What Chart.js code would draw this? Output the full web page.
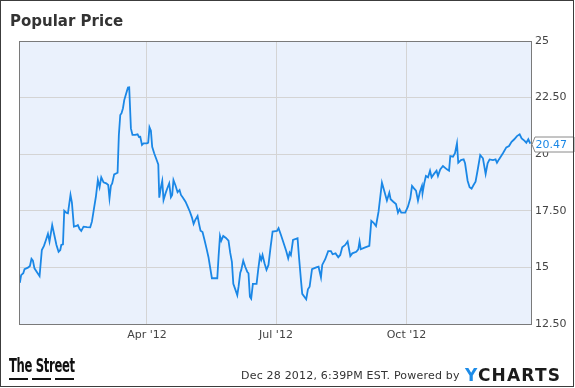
<!DOCTYPE html>
<html>
<head>
<meta charset="utf-8">
<script src="https://cdn.jsdelivr.net/npm/chart.js@4/dist/chart.umd.min.js"></script>
<style>
  html, body { margin: 0; padding: 0; background: #fff; }
  #wrap { position: relative; width: 575px; height: 388px; overflow: hidden; font-family: "DejaVu Sans", sans-serif; }
  #c { position: absolute; left: 0; top: 0; }
  #frame { position: absolute; left: 0; top: 0; width: 574px; height: 387px; box-sizing: border-box; border: 1px solid #3c3c3c; pointer-events: none; }
  #title { position: absolute; left: 10px; top: 12px; font: bold 15px "DejaVu Sans", sans-serif; color: #333; line-height: 18px; white-space: nowrap; }
  #stamp { position: absolute; left: 241px; top: 369px; font: 11px "DejaVu Sans", sans-serif; color: #333; line-height: 14px; white-space: nowrap; letter-spacing: 0.2px; }
  #ych { position: absolute; left: 465px; top: 365px; font: bold 17px "DejaVu Sans", sans-serif; color: #1b1b1b; line-height: 20px; letter-spacing: 1.2px; white-space: nowrap; }
  #ych .y { color: #1d8ce8; }
  #street { position: absolute; left: 9px; top: 355px; font: bold 19px "DejaVu Sans Condensed", "DejaVu Sans", sans-serif; color: #111; line-height: 20px; white-space: nowrap; letter-spacing: -0.5px; transform: scaleX(0.68); transform-origin: 0 0; }
  .dash { position: absolute; top: 378px; width: 19px; height: 2px; background: #111; }
</style>
</head>
<body>
<div id="wrap">
  <canvas id="c" width="575" height="388"></canvas>
  <div id="title">Popular Price</div>
  <div id="street">The Street</div>
  <div class="dash" style="left:9px"></div>
  <div class="dash" style="left:32px"></div>
  <div class="dash" style="left:55px"></div>
  <div id="stamp">Dec 28 2012, 6:39PM EST. Powered by</div>
  <div id="ych"><span class="y">Y</span>CHARTS</div>
  <div id="frame"></div>
</div>
<script>
// Day of year 2012 (Jan 1 = 0) for each sampled close
const dayOfYear = [1.4,2.3,3.8,4.7,7.1,8.5,9.6,10.6,11.7,13.6,
15.3,16.9,18.4,19.8,21.2,22.3,24.2,25.8,27.2,28.7,
29.9,30.6,31.8,32.7,34.1,35.3,37.1,38.1,39.5,41.3,
42.3,43.5,44.7,46.3,48.7,51.0,52.2,53.6,55.0,56.4,
57.6,58.8,60.4,62.3,63.7,64.6,65.6,66.5,67.9,70.3,
71.2,72.2,73.1,74.1,75.0,75.9,77.6,78.5,79.7,80.8,
82.7,84.4,85.4,86.3,87.5,88.6,91.0,91.9,92.8,93.8,
94.7,96.1,97.6,99.0,99.7,100.9,101.8,102.7,104.1,105.5,
106.7,107.9,108.8,109.7,111.2,112.6,114.0,115.0,116.4,118.2,
119.6,121.3,122.7,123.9,125.0,126.7,127.9,128.8,130.2,131.6,
133.0,134.4,136.8,140.6,141.5,142.5,143.4,144.8,146.7,148.5,
149.7,150.9,151.9,153.3,154.7,155.6,156.8,157.5,158.9,160.3,
161.7,162.6,163.6,164.5,165.7,168.3,169.5,170.7,171.6,172.5,
173.9,175.3,176.7,178.2,179.6,182.7,183.8,185.5,187.3,189.2,
190.6,191.6,192.5,194.0,197.2,198.2,199.6,200.5,203.3,204.5,
205.7,207.4,210.4,212.0,213.7,214.6,216.7,218.8,220.7,221.9,
224.0,225.9,227.3,228.7,230.8,232.5,234.4,235.8,238.6,240.0,
240.9,241.8,244.0,247.8,249.2,250.8,252.5,254.3,256.7,258.5,
260.2,261.9,262.8,264.7,266.6,268.0,269.1,270.3,273.1,275.0,
276.7,277.9,279.3,280.7,282.1,283.5,284.9,285.3,286.5,287.7,
289.2,290.6,291.7,293.4,295.2,296.2,297.8,299.7,302.5,304.0,
304.9,306.8,308.2,309.6,310.5,312.4,314.3,315.3,317.1,318.5,
319.9,321.3,322.7,324.1,326.0,327.9,329.8,331.2,332.6,335.0,
336.8,337.8,339.2,342.0,344.4,346.3,348.1,350.0,351.9,353.8,
355.2,357.1,358.5,359.9,361.3];

const price = [14.32,14.66,14.74,14.92,14.99,15.06,15.38,15.30,14.96,14.78,
14.62,15.77,15.95,16.21,16.48,16.14,16.87,16.40,15.99,15.69,
15.77,15.99,16.02,17.50,17.42,17.39,18.20,17.86,16.80,16.83,
16.87,16.70,16.61,16.80,16.78,16.77,17.02,17.57,18.12,18.86,
18.54,18.98,18.76,18.71,18.64,18.05,18.61,18.71,19.11,19.18,
20.85,21.73,21.81,22.03,22.39,22.58,22.94,22.95,21.14,20.85,
20.85,20.88,20.76,20.77,20.41,20.48,20.48,20.51,21.19,21.04,
20.33,20.04,19.79,19.55,18.08,18.56,18.82,17.98,18.27,18.52,
18.71,18.10,18.20,18.86,18.61,18.32,18.42,18.20,18.08,17.90,
17.71,17.46,17.21,16.92,17.09,17.27,16.87,16.62,16.56,16.21,
15.84,15.45,14.52,14.52,15.47,16.39,16.18,16.39,16.30,16.18,
15.65,15.25,14.27,14.03,13.77,14.15,14.77,14.89,15.30,15.03,
14.81,14.74,13.71,13.62,14.27,14.27,14.92,15.50,15.33,15.55,
15.18,14.89,15.11,15.91,16.58,16.61,16.73,16.43,16.09,15.72,
15.40,15.65,15.55,16.21,16.29,15.47,14.44,13.83,13.59,14.03,
14.15,14.92,15.00,15.03,14.56,15.11,15.36,15.72,15.72,15.58,
15.62,15.45,15.55,15.89,15.99,16.14,15.50,15.62,15.69,15.80,
16.14,15.80,15.86,15.95,17.06,16.97,16.83,17.46,18.74,18.34,
17.95,18.30,18.01,17.90,17.80,17.42,17.57,17.42,17.42,17.68,
18.05,18.60,18.49,18.39,17.95,18.34,18.60,18.27,18.71,19.04,
18.98,19.27,18.98,19.13,19.27,19.04,19.33,19.48,19.33,19.27,
19.92,19.89,20.04,20.48,19.62,19.74,19.77,19.60,18.83,18.54,
18.48,18.64,18.79,19.27,19.96,19.82,19.13,19.60,19.77,19.74,
19.77,19.62,19.77,20.04,20.30,20.36,20.55,20.66,20.80,20.88,
20.70,20.60,20.51,20.66,20.47];

const xTickDays = [91, 182, 274];
const xTickLabels = ["Apr '12", "Jul '12", "Oct '12"];
const yTickValues = [12.5, 15, 17.5, 20, 22.5, 25];
const yTickLabels = ["12.50", "15", "17.50", "20", "22.50", "25"];

const LINE = '#1a87e6';
const GRID = '#d4d4d4';
const TICKC = '#444';

const framePlugin = {
  id: 'framePlugin',
  beforeDraw(chart) {
    const a = chart.chartArea, ctx = chart.ctx;
    ctx.save();
    ctx.fillStyle = '#eaf1fc';
    ctx.fillRect(a.left, a.top, a.right - a.left, a.bottom - a.top);
    ctx.restore();
  },
  beforeDatasetsDraw(chart) {
    const a = chart.chartArea, ctx = chart.ctx;
    ctx.save();
    ctx.strokeStyle = '#7a7a7a';
    ctx.lineWidth = 1;
    ctx.strokeRect(Math.round(a.left) - 0.5, Math.round(a.top) + 0.5,
                   Math.round(a.right) - Math.round(a.left), Math.round(a.bottom) - Math.round(a.top));
    ctx.restore();
  },
  afterDraw(chart) {
    const ctx = chart.ctx, ys = chart.scales.y, a = chart.chartArea;
    const last = price[price.length - 1];
    const py = Math.round(ys.getPixelForValue(last)) + 0.5;
    const x0 = Math.round(a.right) + 0.5;
    ctx.save();
    ctx.beginPath();
    ctx.moveTo(x0 - 0.5, py);
    ctx.lineTo(x0 + 2.5, py - 7.5);
    ctx.lineTo(574, py - 7.5);
    ctx.lineTo(574, py + 7.5);
    ctx.lineTo(x0 + 2.5, py + 7.5);
    ctx.closePath();
    ctx.fillStyle = '#fff';
    ctx.fill();
    ctx.strokeStyle = '#8a8a8a';
    ctx.lineWidth = 1;
    ctx.stroke();
    ctx.fillStyle = LINE;
    ctx.font = '11px "DejaVu Sans", sans-serif';
    ctx.textBaseline = 'middle';
    ctx.textAlign = 'left';
    ctx.fillText(last.toFixed(2), x0 + 3, py + 0.5);
    ctx.restore();
  }
};

new Chart(document.getElementById('c'), {
  type: 'line',
  data: {
    datasets: [{
      data: dayOfYear.map((d, i) => ({ x: d, y: price[i] })),
      borderColor: LINE,
      borderWidth: 1.8,
      pointRadius: 0,
      tension: 0,
      fill: false
    }]
  },
  options: {
    responsive: false,
    animation: false,
    devicePixelRatio: 1,
    layout: { padding: { left: 20, top: 41, right: 0, bottom: 0 } },
    plugins: { legend: { display: false }, tooltip: { enabled: false }, title: { display: false } },
    scales: {
      x: {
        type: 'linear',
        min: 1.5,
        max: 362.5,
        afterBuildTicks: s => { s.ticks = xTickDays.map(v => ({ value: v })); },
        afterFit: s => { s.height = 64; },
        ticks: {
          autoSkip: false, maxRotation: 0, padding: 5, color: TICKC,
          font: { family: '"DejaVu Sans", sans-serif', size: 11 },
          callback: (v, i) => xTickLabels[i]
        },
        grid: { color: GRID, drawTicks: false, lineWidth: 1 },
        border: { display: false }
      },
      y: {
        position: 'right',
        min: 12.5,
        max: 25,
        afterBuildTicks: s => { s.ticks = yTickValues.map(v => ({ value: v })); },
        afterFit: s => { s.width = 43; },
        ticks: {
          padding: 3, color: TICKC,
          font: { family: '"DejaVu Sans", sans-serif', size: 11 },
          callback: (v, i) => yTickLabels[i]
        },
        grid: { color: GRID, drawTicks: false, lineWidth: 1 },
        border: { display: false }
      }
    }
  },
  plugins: [framePlugin]
});
</script>
</body>
</html>
